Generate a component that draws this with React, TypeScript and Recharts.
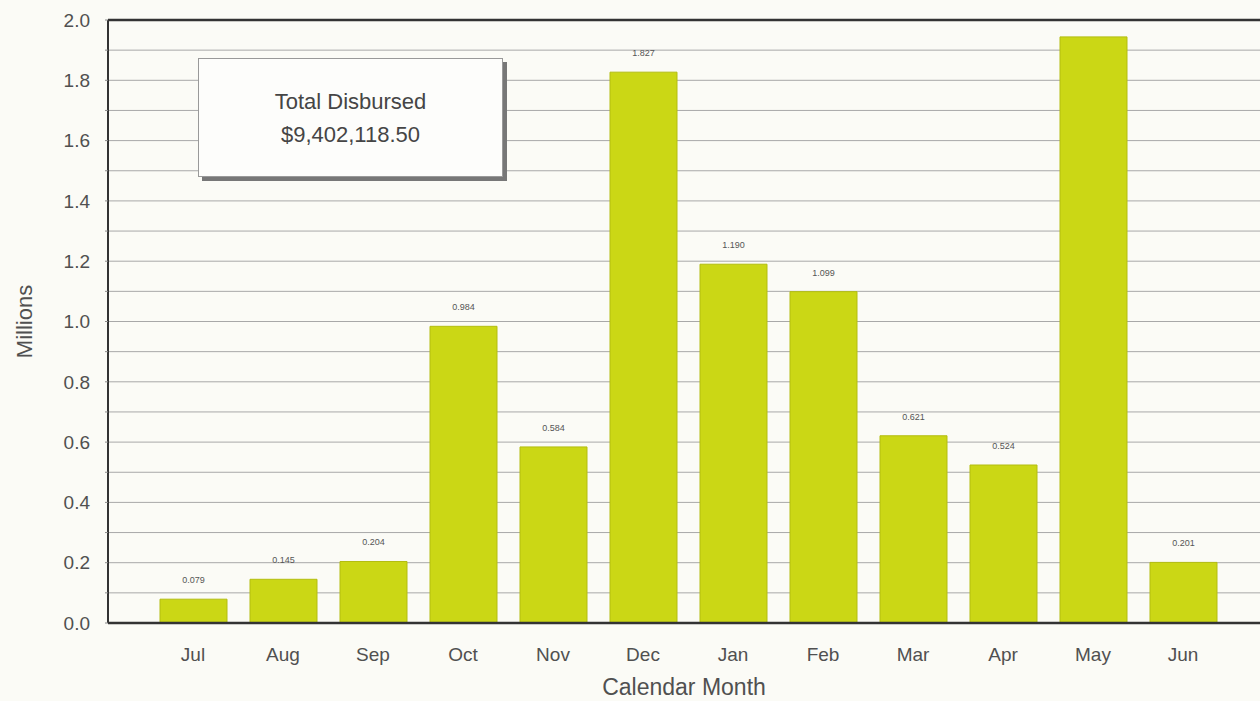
import React from "react";
import { BarChart, Bar, XAxis, YAxis, CartesianGrid, LabelList, ReferenceLine, Label } from "recharts";

const months = ["Jul", "Aug", "Sep", "Oct", "Nov", "Dec", "Jan", "Feb", "Mar", "Apr", "May", "Jun"];
const disbursed = [0.079, 0.145, 0.204, 0.984, 0.584, 1.827, 1.19, 1.099, 0.621, 0.524, 1.944, 0.201];
const barLabels = ["0.079", "0.145", "0.204", "0.984", "0.584", "1.827", "1.190", "1.099", "0.621", "0.524", "", "0.201"];
const yTicks = [0, 0.1, 0.2, 0.3, 0.4, 0.5, 0.6, 0.7, 0.8, 0.9, 1.0, 1.1, 1.2, 1.3, 1.4, 1.5, 1.6, 1.7, 1.8, 1.9, 2.0];
const totalTitle = "Total Disbursed";
const totalValue = "$9,402,118.50";

const data = months.map((m, i) => ({ month: m, value: disbursed[i], label: barLabels[i] }));

const FONT = "'Liberation Sans', Arial, sans-serif";
const TEXT = "#505050";

export default function App() {
  return (
    <div style={{ position: "absolute", left: 0, top: 0, width: 1260, height: 701, background: "#fbfbf6", fontFamily: FONT }}>
      <BarChart width={1260} height={701} data={data} margin={{ top: 20, right: 0, bottom: 38, left: 0 }} barSize={67}>
        <CartesianGrid horizontal vertical={false} stroke="#a8a8a8" strokeWidth={1} />
        <XAxis
          dataKey="month"
          padding={{ left: 40, right: 32 }}
          height={40}
          axisLine={{ stroke: "#333", strokeWidth: 2.5 }}
          tickLine={false}
          tick={{ fill: TEXT, fontSize: 19, fontFamily: FONT }}
          tickMargin={19}
        >
          <Label value="Calendar Month" position="bottom" offset={16} style={{ fill: TEXT, fontSize: 23, fontFamily: FONT }} />
        </XAxis>
        <YAxis
          type="number"
          domain={[0, 2]}
          ticks={yTicks}
          interval={0}
          width={108}
          axisLine={{ stroke: "#333", strokeWidth: 2 }}
          tickLine={{ stroke: "#888" }}
          tickSize={3}
          tickMargin={15}
          tick={{ fill: TEXT, fontSize: 19, fontFamily: FONT }}
          tickFormatter={(v: number) => (Math.round(v * 10) % 2 === 0 ? v.toFixed(1) : "")}
        >
          <Label value="Millions" angle={-90} position="insideLeft" offset={24} style={{ fill: TEXT, fontSize: 22, fontFamily: FONT, textAnchor: "middle" }} />
        </YAxis>
        <ReferenceLine y={2} stroke="#333" strokeWidth={2.5} />
        <Bar dataKey="value" fill="#cbd715" stroke="#b3bd10" strokeWidth={1} isAnimationActive={false}>
          <LabelList dataKey="label" position="top" offset={16} style={{ fill: "#555", fontSize: 9, fontFamily: FONT }} />
        </Bar>
      </BarChart>
      <div
        style={{
          position: "absolute",
          left: 198,
          top: 58,
          width: 303,
          height: 117,
          background: "#fdfdfb",
          border: "1px solid #999",
          boxShadow: "4px 4px 0 #777",
          display: "flex",
          flexDirection: "column",
          justifyContent: "center",
          alignItems: "center",
          color: "#454545",
          fontSize: 22,
          lineHeight: "33px",
          fontFamily: FONT,
        }}
      >
        <div>{totalTitle}</div>
        <div>{totalValue}</div>
      </div>
    </div>
  );
}
